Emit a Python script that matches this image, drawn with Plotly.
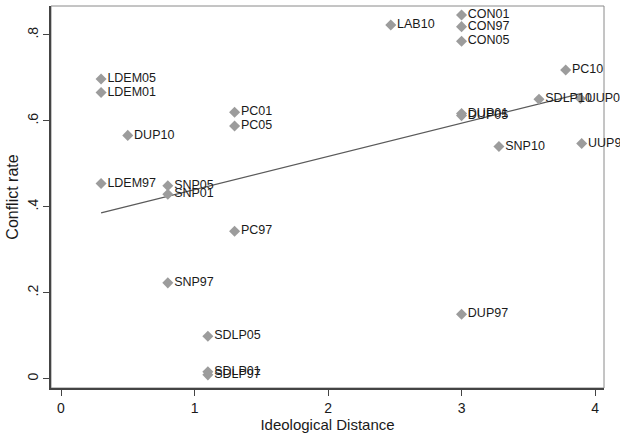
import numpy as np
import plotly.graph_objects as go

# Party-election observations
labels = ["LDEM97", "LDEM01", "LDEM05", "DUP10", "SNP97", "SNP01", "SNP05",
          "SDLP97", "SDLP01", "SDLP05", "PC97", "PC01", "PC05", "LAB10",
          "CON97", "CON01", "CON05", "DUP97", "DUP01", "DUP05", "SNP10",
          "SDLP10", "PC10", "UUP97", "UUP01"]
ideological_distance = [0.3, 0.3, 0.3, 0.5, 0.8, 0.8, 0.8,
                        1.1, 1.1, 1.1, 1.3, 1.3, 1.3, 2.47,
                        3.0, 3.0, 3.0, 3.0, 3.0, 3.0, 3.28,
                        3.58, 3.78, 3.9, 3.89]
conflict_rate = [0.454, 0.666, 0.697, 0.566, 0.223, 0.429, 0.449,
                 0.009, 0.016, 0.099, 0.343, 0.620, 0.588, 0.823,
                 0.819, 0.846, 0.785, 0.150, 0.617, 0.612, 0.540,
                 0.650, 0.718, 0.547, 0.652]

x_ticks = [0, 1, 2, 3, 4]
y_ticks = [0, 0.2, 0.4, 0.6, 0.8]
y_tick_text = ["0", ".2", ".4", ".6", ".8"]

# Linear fit across the observed range
x = np.array(ideological_distance)
y = np.array(conflict_rate)
slope, intercept = np.polyfit(x, y, 1)
fit_x = np.array([x.min(), x.max()])
fit_y = intercept + slope * fit_x

FONT = "Liberation Sans, Arial, Helvetica, sans-serif"

fig = go.Figure()
fig.add_trace(go.Scatter(
    x=fit_x, y=fit_y, mode="lines",
    line=dict(color="#5a5a5a", width=1.3),
    hoverinfo="skip", showlegend=False,
))
fig.add_trace(go.Scatter(
    x=ideological_distance, y=conflict_rate, mode="markers+text",
    text=labels, textposition="middle right",
    textfont=dict(family=FONT, size=12.5, color="#1a1a1a"),
    marker=dict(symbol="diamond", size=8.5, color="#9c9c9c"),
    cliponaxis=False, showlegend=False,
))

# light frame around the plot region
fig.add_shape(type="rect", xref="paper", yref="paper", x0=0, x1=1, y0=0, y1=1,
              line=dict(color="#8a8a8a", width=1), layer="below")

fig.update_layout(
    width=620, height=437,
    margin=dict(l=51, r=16, t=6, b=49),
    paper_bgcolor="white", plot_bgcolor="white",
    font=dict(family=FONT, color="#1a1a1a"),
    xaxis=dict(
        range=[-0.075, 4.067], tickvals=x_ticks,
        showgrid=False, zeroline=False,
        showline=True, linecolor="#444444", linewidth=1.5,
        ticks="outside", ticklen=6, tickcolor="#444444", tickwidth=1,
        tickfont=dict(size=14),
        title=dict(text="Ideological Distance", font=dict(size=15), standoff=2),
    ),
    yaxis=dict(
        range=[-0.0216, 0.867], tickvals=y_ticks, ticktext=y_tick_text,
        tickangle=-90,
        showgrid=False, zeroline=False,
        showline=True, linecolor="#444444", linewidth=1.5,
        ticks="outside", ticklen=6, tickcolor="#444444", tickwidth=1,
        tickfont=dict(size=14),
        title=dict(text="Conflict rate", font=dict(size=16), standoff=2),
    ),
)

fig.write_html("out.html")
